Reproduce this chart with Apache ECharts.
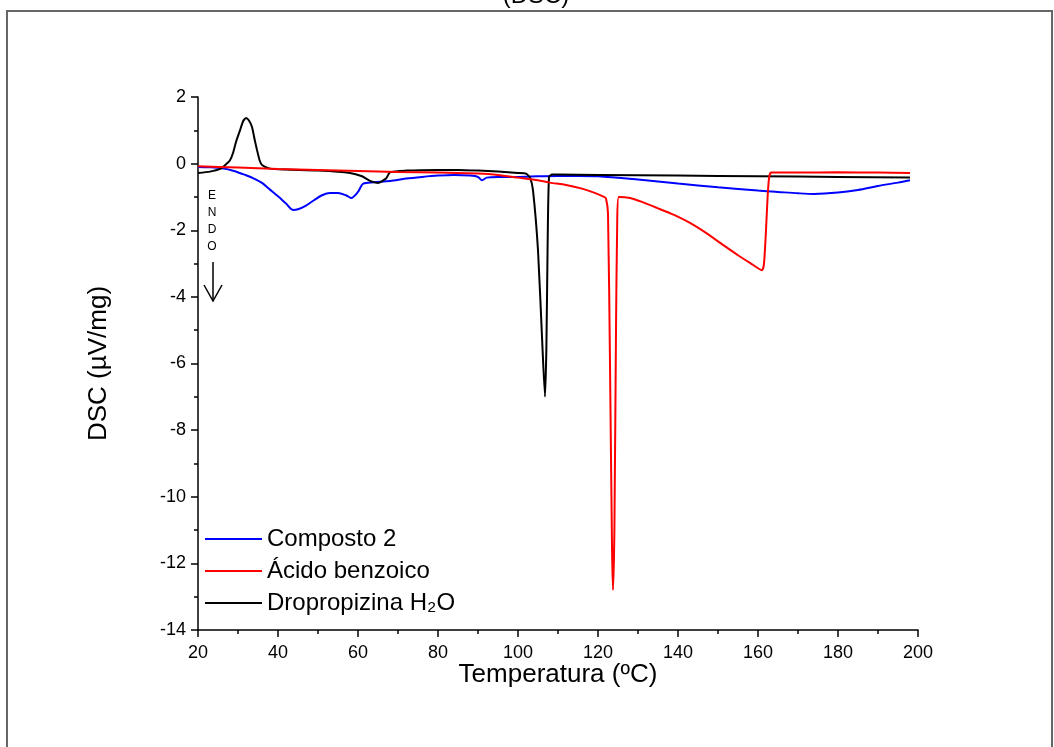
<!DOCTYPE html>
<html>
<head>
<meta charset="utf-8">
<script src="https://cdn.jsdelivr.net/npm/echarts@6/dist/echarts.min.js"></script>
<style>
  html, body { margin: 0; padding: 0; background: #fff; }
  #chart { width: 1054px; height: 747px; }
</style>
</head>
<body>
<div id="chart"></div>
<script>
// values (temperature in ºC, DSC in µV/mg)
var compostoT = [20, 23, 26, 29, 32, 34, 36, 38, 40, 42, 43.75, 45, 47, 49, 51, 53, 55, 57, 58.3, 60, 61.3, 64, 68, 72, 76, 80, 84, 88, 90, 91, 92.2, 95, 100, 105, 110, 115, 120, 130, 140, 150, 160, 165, 170, 174, 180, 185, 190, 195, 198];
var compostoDSC = [-0.10, -0.11, -0.14, -0.22, -0.35, -0.45, -0.58, -0.78, -0.98, -1.20, -1.39, -1.37, -1.26, -1.10, -0.95, -0.88, -0.88, -0.95, -1.03, -0.85, -0.60, -0.56, -0.52, -0.45, -0.40, -0.36, -0.34, -0.36, -0.40, -0.50, -0.42, -0.40, -0.40, -0.38, -0.37, -0.37, -0.38, -0.48, -0.60, -0.71, -0.81, -0.85, -0.89, -0.91, -0.87, -0.79, -0.67, -0.57, -0.50];

var acidoT = [20, 30, 40, 50, 60, 70, 80, 90, 95, 100, 105, 108, 112, 116, 119, 121.5, 122, 122.5, 123, 123.5, 123.75, 124.1, 124.5, 124.8, 125.2, 128, 131, 134.75, 139, 143, 147, 151.25, 155, 158, 161, 161.5, 162, 162.4, 162.8, 163.3, 170, 180, 190, 198];
var acidoDSC = [-0.08, -0.12, -0.16, -0.19, -0.22, -0.25, -0.27, -0.30, -0.34, -0.42, -0.50, -0.57, -0.64, -0.75, -0.87, -1.00, -1.05, -1.5, -6.0, -11.5, -12.8, -11.0, -5.0, -1.8, -1.0, -1.03, -1.15, -1.33, -1.54, -1.78, -2.08, -2.44, -2.75, -2.98, -3.20, -3.00, -2.00, -1.00, -0.40, -0.27, -0.27, -0.26, -0.27, -0.28];

var dropT = [20, 23, 25.5, 27, 28, 28.75, 29.5, 30.5, 31.3, 32, 32.7, 33.5, 34.2, 34.75, 35.4, 36, 38, 42, 50, 58, 61, 63, 65, 67, 68, 72, 80, 85, 90, 95, 100, 102, 103, 103.75, 105, 106, 106.75, 107.1, 107.4, 107.75, 108.5, 110, 120, 140, 160, 180, 198];
var dropDSC = [-0.28, -0.24, -0.16, -0.02, 0.10, 0.32, 0.65, 1.00, 1.28, 1.37, 1.30, 1.10, 0.70, 0.41, 0.10, -0.04, -0.15, -0.18, -0.21, -0.28, -0.38, -0.52, -0.58, -0.45, -0.26, -0.21, -0.19, -0.19, -0.21, -0.24, -0.28, -0.30, -0.42, -0.80, -2.6, -5.2, -7.0, -5.5, -2.5, -0.40, -0.33, -0.33, -0.34, -0.36, -0.38, -0.40, -0.42];

var seriesNames = ['Composto 2', 'Ácido benzoico', 'Dropropizina H₂O'];

function zip(xs, ys) {
  return xs.map(function (x, i) { return [x, ys[i]]; });
}

var font = '"Liberation Sans", Arial, sans-serif';

var chart = echarts.init(document.getElementById('chart'));

var option = {
  animation: false,
  backgroundColor: '#fff',
  grid: { left: 198, top: 97, right: 136, bottom: 117 },
  xAxis: {
    type: 'value',
    min: 20, max: 200, interval: 20,
    name: 'Temperatura (ºC)',
    nameLocation: 'middle',
    nameGap: 32,
    nameMoveOverlap: false,
    nameTextStyle: { fontFamily: font, fontSize: 26, color: '#000' },
    axisLine: { onZero: false, lineStyle: { color: '#000', width: 1.5 } },
    axisTick: { inside: false, length: 7, lineStyle: { color: '#000', width: 1.5 } },
    minorTick: { show: true, splitNumber: 2, length: 4, lineStyle: { color: '#000', width: 1.5 } },
    axisLabel: { fontFamily: font, fontSize: 18, color: '#000', margin: 14 },
    splitLine: { show: false }
  },
  yAxis: {
    type: 'value',
    min: -14, max: 2, interval: 2,
    name: 'DSC (µV/mg)',
    nameLocation: 'middle',
    nameGap: 86,
    nameMoveOverlap: false,
    nameTextStyle: { fontFamily: font, fontSize: 26, color: '#000' },
    axisLine: { onZero: false, lineStyle: { color: '#000', width: 1.5 } },
    axisTick: { inside: false, length: 7, lineStyle: { color: '#000', width: 1.5 } },
    minorTick: { show: true, splitNumber: 2, length: 4, lineStyle: { color: '#000', width: 1.5 } },
    axisLabel: { fontFamily: font, fontSize: 18, color: '#000', margin: 12 },
    splitLine: { show: false }
  },
  legend: {
    orient: 'vertical',
    left: 200,
    top: 522,
    icon: 'rect',
    itemWidth: 57,
    itemHeight: 2,
    itemGap: 8,
    data: seriesNames,
    textStyle: { fontFamily: font, fontSize: 24, color: '#000', lineHeight: 24 }
  },
  series: [
    {
      name: seriesNames[0], type: 'line', symbol: 'none', smooth: 0.3, z: 2,
      lineStyle: { color: '#0000ff', width: 2 }, itemStyle: { color: '#0000ff' },
      data: zip(compostoT, compostoDSC)
    },
    {
      name: seriesNames[1], type: 'line', symbol: 'none', smooth: 0.2, z: 4,
      lineStyle: { color: '#ff0000', width: 2 }, itemStyle: { color: '#ff0000' },
      data: zip(acidoT, acidoDSC)
    },
    {
      name: seriesNames[2], type: 'line', symbol: 'none', smooth: 0.2, z: 3,
      lineStyle: { color: '#000000', width: 2 }, itemStyle: { color: '#000000' },
      data: zip(dropT, dropDSC)
    }
  ],
  graphic: [
    { type: 'rect', shape: { x: 7, y: 11, width: 1045, height: 800 }, style: { fill: null, stroke: '#666', lineWidth: 2 }, silent: true },
    { type: 'text', x: 536, y: 8, style: { text: '(DSC)', font: '24px "Liberation Sans", Arial', fill: '#000', textAlign: 'center', textVerticalAlign: 'bottom' } },
    { type: 'text', x: 212, y: 196, style: { text: 'E', font: '12px "Liberation Sans", Arial', fill: '#000', textAlign: 'center', textVerticalAlign: 'middle' } },
    { type: 'text', x: 212, y: 213, style: { text: 'N', font: '12px "Liberation Sans", Arial', fill: '#000', textAlign: 'center', textVerticalAlign: 'middle' } },
    { type: 'text', x: 212, y: 230, style: { text: 'D', font: '12px "Liberation Sans", Arial', fill: '#000', textAlign: 'center', textVerticalAlign: 'middle' } },
    { type: 'text', x: 212, y: 247, style: { text: 'O', font: '12px "Liberation Sans", Arial', fill: '#000', textAlign: 'center', textVerticalAlign: 'middle' } },
    { type: 'polyline', shape: { points: [[213, 262], [213, 301]] }, style: { stroke: '#000', lineWidth: 1.5, fill: null } },
    { type: 'polyline', shape: { points: [[204, 285], [213, 301], [222, 285]] }, style: { stroke: '#000', lineWidth: 1.5, fill: null } }
  ]
};

chart.setOption(option);
</script>
</body>
</html>
